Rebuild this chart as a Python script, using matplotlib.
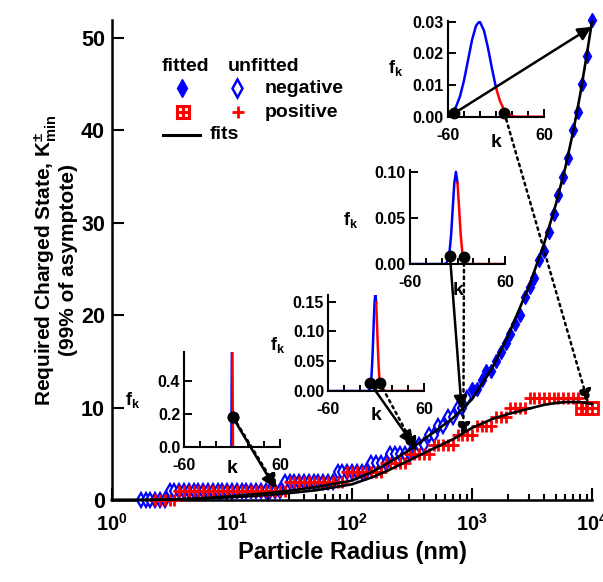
import numpy as np
import matplotlib
matplotlib.use('Agg')
import matplotlib.pyplot as plt
from matplotlib.patches import ConnectionPatch
import matplotlib.ticker as mticker

plt.rcParams['font.family'] = ['Liberation Sans', 'DejaVu Sans']
plt.rcParams['font.weight'] = 'bold'
plt.rcParams['mathtext.fontset'] = 'custom'
plt.rcParams['mathtext.rm'] = 'Liberation Sans:bold'
plt.rcParams['mathtext.bf'] = 'Liberation Sans:bold'
plt.rcParams['mathtext.it'] = 'Liberation Sans:italic:bold'
plt.rcParams['axes.unicode_minus'] = False

# ---------------- data ----------------
radius = [1.738, 1.905, 2.089, 2.291, 2.512, 2.754, 3.020, 3.311, 3.631, 3.981,
          4.365, 4.786, 5.248, 5.754, 6.310, 6.918, 7.586, 8.318, 9.120, 10.00,
          10.96, 12.02, 13.18, 14.45, 15.85, 17.38, 19.05, 20.89, 22.91, 25.12,
          27.54, 30.20, 33.11, 36.31, 39.81, 43.65, 47.86, 52.48, 57.54, 63.10,
          69.18, 75.86, 83.18, 91.20, 100.0, 109.6, 120.2, 131.8, 144.5, 158.5,
          173.8, 190.5, 208.9, 229.1, 251.2, 275.4, 302.0, 331.1, 363.1, 398.1,
          436.5, 478.6, 524.8, 575.4, 631.0, 691.8, 758.6, 831.8, 912.0, 1000,
          1096, 1202, 1318, 1445, 1585, 1738, 1905, 2089, 2291, 2512,
          2754, 3020, 3311, 3631, 3981, 4365, 4786, 5248, 5754, 6310,
          6918, 7586, 8318, 9120, 10000]

neg_charge = ([0] * 6 + [1] * 24 + [2] * 11 + [3] * 7 + [4] * 4 + [5] * 5 + [6] * 3 +
              [7, 7, 8, 8, 9, 9, 10, 10, 11] +
              [12, 12, 13, 14, 14, 15, 16, 17, 18, 19, 20, 22, 23, 24, 26, 27, 29,
               31, 33, 35, 37, 40, 42, 45, 48, 52])

nan = float('nan')
pos_charge = ([nan] * 3 + [0] * 5 + [1] * 23 + [2] * 12 + [3] * 8 + [4] * 5 + [5] * 5 +
              [6] * 5 + [7] * 4 + [8] * 4 + [9] * 3 + [10] * 4 + [11] * 11 + [10] * 3)

fit_radius = [1, 2, 3, 5, 10, 20, 30, 50, 100, 150, 200, 300, 500, 700, 1000, 1500,
              2000, 3000, 4000, 5000, 6000, 7000, 8000, 9000, 10000]
neg_fit = [0, 0.01, 0.05, 0.15, 0.4, 0.75, 1.0, 1.4, 2.1, 3.1, 4.0, 5.4, 7.5, 8.9,
           10.9, 14.5, 17.8, 23.2, 27.8, 32.0, 36.0, 40.0, 44.0, 48.0, 51.8]
pos_fit = [0, 0.01, 0.05, 0.12, 0.3, 0.55, 0.75, 1.05, 1.7, 2.5, 3.2, 4.3, 5.7, 6.6,
           7.8, 8.8, 9.3, 9.9, 10.3, 10.5, 10.6, 10.6, 10.6, 10.5, 10.4]

NEG_FIT_MIN_RADIUS = 1000   # negative points at/above this radius were fitted
POS_FIT_MIN_RADIUS = 8000   # positive points at/above this radius were fitted

# charge distributions f_k for four particle radii (insets)
in1_k_neg = [-60, -2, -1, 0]
in1_f_neg = [0, 0, 0, 0.9]
in1_k_pos = [0, 1, 60]
in1_f_pos = [0.9, 0, 0]
in1_dots = ([0.8, 0.8], [0.18, 0.18])

in2_k_neg = [-60, -10, -8, -6, -5, -4, -3, -2, -1, 0]
in2_f_neg = [0, 0, 0.003, 0.022, 0.045, 0.078, 0.116, 0.148, 0.165, 0.148]
in2_k_pos = [0, 1, 2, 3, 4, 5, 6, 8, 60]
in2_f_pos = [0.148, 0.116, 0.078, 0.045, 0.022, 0.009, 0.003, 0, 0]
in2_dots = ([-8, 4.5], [0.014, 0.014])

in3_k_neg = [-60, -16, -14, -12, -10, -8, -6, -4, -2, 0]
in3_f_neg = [0, 0, 0.0011, 0.0044, 0.0135, 0.0325, 0.0607, 0.088, 0.100, 0.088]
in3_k_pos = [0, 2, 4, 6, 8, 10, 12, 60]
in3_f_pos = [0.088, 0.0607, 0.0325, 0.0135, 0.0044, 0.0011, 0, 0]
in3_dots = ([-9.5, 8.2], [0.009, 0.008])

in4_k_neg = [-60, -55, -50, -45, -40, -35, -30, -25, -21, -20, -15, -10, -5, 0]
in4_f_neg = [0.0005, 0.0014, 0.0032, 0.0065, 0.0115, 0.0178, 0.0242, 0.0287, 0.0300,
             0.0299, 0.0272, 0.0217, 0.0152, 0.0092]
in4_k_pos = [0, 5, 10, 15, 20, 25, 60]
in4_f_pos = [0.0092, 0.0050, 0.0023, 0.0009, 0.0003, 0.0001, 0.0001]
in4_dots = ([-52, 10.4], [0.0012, 0.0013])

# ---------------- figure ----------------
fig = plt.figure(figsize=(6.03, 5.82), dpi=100)
ax = fig.add_axes([112 / 603, 82 / 582, 480 / 603, 480.5 / 582])

r = np.array(radius)
vn = np.array(neg_charge, dtype=float)
vp = np.array(pos_charge, dtype=float)
nfit = r >= NEG_FIT_MIN_RADIUS
pfit = r >= POS_FIT_MIN_RADIUS

blue = '#0000ff'
red = '#ff0000'
ax.plot(r[~nfit], vn[~nfit], ls='none', marker='d', ms=7.6, mfc='white',
        mec=blue, mew=1.6, clip_on=False, zorder=3)
ax.plot(r[nfit], vn[nfit], ls='none', marker='d', ms=7.6, mfc=blue,
        mec=blue, mew=1.0, clip_on=False, zorder=3)
ax.plot(r[~pfit], vp[~pfit], ls='none', marker='+', ms=8.5, mec=red,
        mew=2.0, clip_on=False, zorder=4)
ax.plot(r[pfit], vp[pfit], ls='none', marker='s', ms=8, mfc='white', mec=red,
        mew=2.0, clip_on=False, zorder=4)
ax.plot(r[pfit], vp[pfit], ls='none', marker='+', ms=8, mec=red,
        mew=2.0, clip_on=False, zorder=4)

ax.plot(fit_radius, neg_fit, color='k', lw=1.9, zorder=5, clip_on=False)
ax.plot(fit_radius, pos_fit, color='k', lw=1.9, zorder=5, clip_on=False)

ax.set_xscale('log')
ax.set_xlim(1, 1e4)
ax.set_ylim(0, 52)
for s in ['top', 'right']:
    ax.spines[s].set_visible(False)
for s in ['left', 'bottom']:
    ax.spines[s].set_linewidth(1.8)
ax.set_yticks([0, 10, 20, 30, 40, 50])
ax.set_xticks([1, 10, 100, 1000, 10000])
ax.xaxis.set_major_formatter(mticker.FixedFormatter(
    [r'$\mathbf{10^{%d}}$' % i for i in range(5)]))
ax.xaxis.set_minor_locator(mticker.LogLocator(base=10, subs=np.arange(2, 10)))
ax.xaxis.set_minor_formatter(mticker.NullFormatter())
ax.tick_params(which='major', direction='in', length=8.6, width=1.5,
               labelsize=15.5, pad=5)
ax.tick_params(axis='x', which='major', pad=9, labelsize=14.3)
ax.tick_params(which='minor', direction='in', length=4.3, width=1.5)
ax.set_xlabel('Particle Radius (nm)', fontsize=17, fontweight='bold', labelpad=5)
ax.set_ylabel('Required Charged State, $\\mathbf{K}^{\\pm}_{\\mathrm{min}}$\n(99% of asymptote)',
              fontsize=15, fontweight='bold', labelpad=2, linespacing=1.05)

# legend (hand-built, in axes fraction)
T = ax.transAxes
fs_leg = 14
ax.text(0.152, 0.903, 'fitted', transform=T, ha='center', va='center', fontsize=fs_leg)
ax.text(0.315, 0.903, 'unfitted', transform=T, ha='center', va='center', fontsize=fs_leg)
ax.plot([0.146], [0.857], transform=T, marker='d', ms=9, mfc=blue, mec=blue, ls='none', clip_on=False)
ax.plot([0.260], [0.857], transform=T, marker='d', ms=9, mfc='white', mec=blue, mew=1.8, ls='none', clip_on=False)
ax.text(0.319, 0.857, 'negative', transform=T, ha='left', va='center', fontsize=fs_leg)
ax.plot([0.148], [0.807], transform=T, marker='s', ms=8, mfc='white', mec=red, mew=2.2, ls='none', clip_on=False)
ax.plot([0.148], [0.807], transform=T, marker='+', ms=8, mec=red, mew=2.2, ls='none', clip_on=False)
ax.plot([0.2625], [0.807], transform=T, marker='+', ms=9, mec=red, mew=2.0, ls='none', clip_on=False)
ax.text(0.319, 0.807, 'positive', transform=T, ha='left', va='center', fontsize=fs_leg)
ax.plot([0.106, 0.183], [0.760, 0.760], transform=T, color='k', lw=2.2, clip_on=False)
ax.text(0.204, 0.760, 'fits', transform=T, ha='left', va='center', fontsize=fs_leg)

# ---------------- insets ----------------
def make_inset(rect, kn, fn, kp, fp, ymax, yticks, yfmt, dots, flabel_xy, klabel_y):
    a = fig.add_axes(rect)
    a.patch.set_alpha(0)
    a.plot(kn, fn, color=blue, lw=1.8, clip_on=True)
    a.plot(kp, fp, color=red, lw=1.8, clip_on=True)
    a.plot(dots[0], dots[1], 'o', color='k', ms=7.5, clip_on=False, zorder=5)
    a.set_xlim(-60, 60)
    a.set_ylim(0, ymax)
    for s in ['top', 'right']:
        a.spines[s].set_visible(False)
    for s in ['left', 'bottom']:
        a.spines[s].set_linewidth(1.5)
    a.set_xticks([-60, 60])
    a.set_xticklabels(['-60', '60'])
    a.set_xticks([-40, -20, 0, 20, 40], minor=True)
    a.set_yticks(yticks)
    a.set_yticklabels([yfmt % v for v in yticks])
    a.tick_params(which='major', direction='in', length=6, width=1.4, labelsize=11.5, pad=3)
    a.tick_params(axis='x', which='major', pad=8)
    a.tick_params(which='minor', direction='in', length=4, width=1.4)
    a.text(flabel_xy[0], flabel_xy[1], '$\\mathbf{f_k}$', transform=a.transAxes,
           ha='center', va='center', fontsize=13)
    a.text(0.5, klabel_y, 'k', transform=a.transAxes, ha='center', va='center', fontsize=14)
    return a

in1 = make_inset([184.3 / 603, 134.7 / 582, 95.7 / 603, 95.6 / 582],
                 in1_k_neg, in1_f_neg, in1_k_pos, in1_f_pos, 0.574,
                 [0.0, 0.2, 0.4], '%.1f', in1_dots, (-0.54, 0.49), -0.22)
in2 = make_inset([328.3 / 603, 191 / 582, 95.7 / 603, 96 / 582],
                 in2_k_neg, in2_f_neg, in2_k_pos, in2_f_pos, 0.161,
                 [0.0, 0.05, 0.10, 0.15], '%.2f', in2_dots, (-0.53, 0.48), -0.25)
in3 = make_inset([410 / 603, 318 / 582, 95 / 603, 94 / 582],
                 in3_k_neg, in3_f_neg, in3_k_pos, in3_f_pos, 0.102,
                 [0.0, 0.05, 0.10], '%.2f', in3_dots, (-0.63, 0.47), -0.28)
in4 = make_inset([448 / 603, 465 / 582, 96 / 603, 96.3 / 582],
                 in4_k_neg, in4_f_neg, in4_k_pos, in4_f_pos, 0.0303,
                 [0.0, 0.01, 0.02, 0.03], '%.2f', in4_dots, (-0.55, 0.51), -0.26)

# ---------------- arrows ----------------
def arrow(a, xyA, xyB, ls='-'):
    cp = ConnectionPatch(xyA=xyA, coordsA=a.transData, xyB=xyB, coordsB=ax.transData,
                         arrowstyle='-|>', mutation_scale=20, lw=1.8, color='k',
                         fc='k', linestyle=ls, zorder=10)
    fig.add_artist(cp)

arrow(in1, (1.6, 0.18), (23.5, 1.3), ':')
arrow(in1, (0.8, 0.18), (22.8, 1.3))
arrow(in2, (4.5, 0.014), (345, 5.3), ':')
arrow(in2, (-8, 0.014), (324, 6.0))
arrow(in3, (8.2, 0.008), (847, 6.9), ':')
arrow(in3, (-9.5, 0.009), (820, 9.8))
arrow(in4, (10.4, 0.0013), (9300, 10.5), ':')
arrow(in4, (-52, 0.0012), (9900, 51.2))

fig.savefig('out.png', dpi=100)
